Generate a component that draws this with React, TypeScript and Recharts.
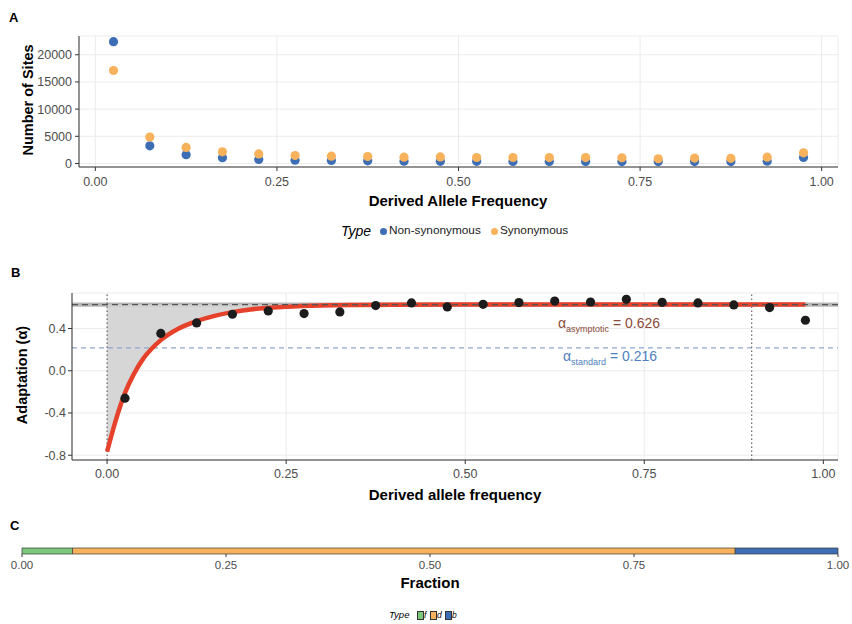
import React from 'react';
import {
  ScatterChart,
  ComposedChart,
  BarChart,
  Scatter,
  Line,
  Area,
  Bar,
  XAxis,
  YAxis,
  CartesianGrid,
  ReferenceLine,
  ReferenceArea,
} from 'recharts';

// Panel A: site frequency spectrum
const binMids = [
  0.025, 0.075, 0.125, 0.175, 0.225, 0.275, 0.325, 0.375, 0.425, 0.475,
  0.525, 0.575, 0.625, 0.675, 0.725, 0.775, 0.825, 0.875, 0.925, 0.975,
];
const nonSynCounts = [
  22400, 3250, 1600, 1050, 740, 610, 550, 490, 430, 400,
  390, 380, 370, 360, 350, 340, 340, 350, 420, 1100,
];
const synCounts = [
  17100, 4850, 2950, 2150, 1760, 1470, 1340, 1280, 1160, 1200,
  1100, 1100, 1080, 1080, 1050, 870, 1000, 950, 1150, 1950,
];
const freqTicks = [0, 0.25, 0.5, 0.75, 1];
const siteTicks = [0, 5000, 10000, 15000, 20000];

// Panel B: alpha by frequency
const alphaObs = [
  -0.26, 0.353, 0.453, 0.535, 0.566, 0.541, 0.557, 0.617, 0.642, 0.604,
  0.629, 0.645, 0.66, 0.651, 0.676, 0.648, 0.642, 0.623, 0.598, 0.478,
];
const fitX = [
  0, 0.0125, 0.025, 0.0375, 0.05, 0.0625, 0.075, 0.1, 0.125, 0.15, 0.175,
  0.2, 0.25, 0.3, 0.35, 0.4, 0.5, 0.6, 0.7, 0.8, 0.9, 0.975,
];
const fitY = [
  -0.765, -0.46, -0.21, -0.03, 0.11, 0.21, 0.29, 0.4, 0.47, 0.52, 0.555,
  0.58, 0.605, 0.617, 0.622, 0.625, 0.626, 0.626, 0.626, 0.626, 0.626, 0.626,
];
const alphaAsymptotic = 0.626;
const alphaStandard = 0.216;
const cutoff = 0.9;
const alphaTicks = [-0.8, -0.4, 0, 0.4];

// Panel C: fractions
const fractionTypes = ['f', 'd', 'b'];
const fractionValues = [0.062, 0.812, 0.126];

const FONT = '"Liberation Sans", Arial, Helvetica, sans-serif';
const BLUE = '#3d6db4';
const ORANGE = '#f8b25c';
const GREEN = '#7bc87a';
const AXIS = '#333333';
const GRID = '#ebebeb';
const TICK_TEXT = { fontSize: 12.5, fill: '#4d4d4d', fontFamily: FONT };

const fmt2 = (v: number) => v.toFixed(2);
const fmt1 = (v: number) => (Math.abs(v) < 1e-9 ? '0.0' : v.toFixed(1));

const dot = (fill: string, r: number) => (p: any) =>
  <circle cx={p.cx} cy={p.cy} r={r} fill={fill} />;

function Text({
  x, y, children, size = 14, bold = false, italic = false, color = '#000', center = false, rotate = false,
}: any) {
  return (
    <div
      style={{
        position: 'absolute',
        left: x,
        top: y,
        fontFamily: FONT,
        fontSize: size,
        fontWeight: bold ? 700 : 400,
        fontStyle: italic ? 'italic' : 'normal',
        color,
        whiteSpace: 'nowrap',
        lineHeight: 1,
        transform: `${center ? 'translate(-50%, -50%)' : 'translateY(-50%)'}${rotate ? ' rotate(-90deg)' : ''}`,
      }}
    >
      {children}
    </div>
  );
}

function PanelA() {
  const nonSyn = binMids.map((x, i) => ({ x, y: nonSynCounts[i] }));
  const syn = binMids.map((x, i) => ({ x, y: synCounts[i] }));
  return (
    <div style={{ position: 'absolute', left: 0, top: 0 }}>
      <ScatterChart width={852} height={191} margin={{ top: 36, right: 14, left: 19, bottom: 0 }}>
        <CartesianGrid stroke={GRID} strokeWidth={1} />
        <XAxis
          type="number"
          dataKey="x"
          domain={[-0.0225, 1.0225]}
          ticks={freqTicks}
          tickFormatter={fmt2}
          tick={TICK_TEXT}
          stroke={AXIS}
          tickSize={4}
          tickMargin={6}
          height={24}
        />
        <YAxis
          type="number"
          dataKey="y"
          domain={[-650, 23450]}
          ticks={siteTicks}
          tick={TICK_TEXT}
          stroke={AXIS}
          tickSize={4}
          tickMargin={3}
          width={60}
        />
        <Scatter data={nonSyn} shape={dot(BLUE, 4.6)} isAnimationActive={false} />
        <Scatter data={syn} shape={dot(ORANGE, 4.6)} isAnimationActive={false} />
      </ScatterChart>
    </div>
  );
}

function PanelB() {
  const obs = binMids.map((x, i) => ({ x, y: alphaObs[i] }));
  const fit = fitX.map((x, i) => ({ x, y: fitY[i] }));
  const gap = fitX
    .map((x, i) => ({ x, band: [fitY[i], alphaAsymptotic] }))
    .filter((d) => d.x <= 0.4);
  return (
    <div style={{ position: 'absolute', left: 0, top: 250 }}>
      <ComposedChart width={852} height={234} margin={{ top: 43, right: 14, left: 20, bottom: 0 }}>
        <CartesianGrid stroke={GRID} strokeWidth={1} />
        <XAxis
          type="number"
          dataKey="x"
          domain={[-0.049, 1.0205]}
          ticks={freqTicks}
          tickFormatter={fmt2}
          tick={TICK_TEXT}
          stroke={AXIS}
          tickSize={4}
          tickMargin={5}
          height={24}
          allowDataOverflow
        />
        <YAxis
          type="number"
          dataKey="y"
          domain={[-0.845, 0.736]}
          ticks={alphaTicks}
          tickFormatter={fmt1}
          tick={TICK_TEXT}
          stroke={AXIS}
          tickSize={4}
          tickMargin={2}
          width={52}
          allowDataOverflow
        />
        <ReferenceArea y1={alphaAsymptotic - 0.02} y2={alphaAsymptotic + 0.02} fill="#a9a9a9" fillOpacity={0.85} stroke="none" />
        <Area
          data={gap}
          dataKey="band"
          type="monotone"
          fill="#d2d2d2"
          fillOpacity={0.9}
          stroke="none"
          isAnimationActive={false}
        />
        <ReferenceLine y={alphaStandard} stroke="#8ea8cf" strokeDasharray="5 4" strokeWidth={1.2} />
        <ReferenceLine x={0} stroke="#666" strokeDasharray="1.5 2.5" strokeWidth={1.2} />
        <ReferenceLine x={cutoff} stroke="#666" strokeDasharray="1.5 2.5" strokeWidth={1.2} />
        <Line
          data={fit}
          dataKey="y"
          type="monotone"
          stroke="#e5412b"
          strokeWidth={4.5}
          dot={false}
          isAnimationActive={false}
        />
        <ReferenceLine y={alphaAsymptotic} stroke="#555" strokeDasharray="6 4" strokeWidth={1.3} />
        <Scatter data={obs} shape={dot('#1c1c1c', 4.6)} isAnimationActive={false} />
      </ComposedChart>
    </div>
  );
}

function PanelC() {
  const row: any = { name: 'fraction' };
  fractionTypes.forEach((t, i) => (row[t] = fractionValues[i]));
  const colors = [GREEN, ORANGE, BLUE];
  return (
    <div style={{ position: 'absolute', left: 0, top: 530 }}>
      <BarChart
        width={852}
        height={60}
        data={[row]}
        layout="vertical"
        barCategoryGap={0}
        margin={{ top: 18, right: 14, left: 22, bottom: 12 }}
      >
        <XAxis
          type="number"
          domain={[0, 1]}
          ticks={freqTicks}
          tickFormatter={fmt2}
          tick={{ ...TICK_TEXT, fontSize: 11.5 }}
          axisLine={false}
          stroke={AXIS}
          tickSize={3}
          tickMargin={4}
          height={24}
        />
        <YAxis type="category" dataKey="name" hide />
        {fractionTypes.map((t, i) => (
          <Bar
            key={t}
            dataKey={t}
            stackId="s"
            fill={colors[i]}
            stroke="#3a3a3a"
            strokeWidth={0.7}
            isAnimationActive={false}
          />
        ))}
      </BarChart>
    </div>
  );
}

export default function App() {
  return (
    <div style={{ position: 'absolute', left: 0, top: 0, width: 852, height: 624, background: '#fff', overflow: 'hidden' }}>
      <PanelA />
      <PanelB />
      <PanelC />

      <Text x={9} y={17} size={13} bold>A</Text>
      <Text x={28} y={100} size={14.5} bold center rotate>Number of Sites</Text>
      <Text x={458} y={200} size={15} bold center>Derived Allele Frequency</Text>
      <Text x={341} y={231} size={14} italic>Type</Text>
      <div style={{ position: 'absolute', left: 379.5, top: 227.5, width: 7.5, height: 7.5, borderRadius: '50%', background: BLUE }} />
      <Text x={389} y={231} size={11.8} color="#222">Non-synonymous</Text>
      <div style={{ position: 'absolute', left: 490.5, top: 227.5, width: 7.5, height: 7.5, borderRadius: '50%', background: ORANGE }} />
      <Text x={500} y={231} size={11.8} color="#222">Synonymous</Text>

      <Text x={11} y={272} size={13} bold>B</Text>
      <Text x={22} y={375} size={14.5} bold center rotate>Adaptation (α)</Text>
      <Text x={455} y={494} size={15} bold center>Derived allele frequency</Text>
      <Text x={558} y={325} size={14} color="#8b4a3a">
        α<sub style={{ fontSize: 9 }}>asymptotic</sub> = 0.626
      </Text>
      <Text x={563} y={358} size={14} color="#4f7fc0">
        α<sub style={{ fontSize: 9 }}>standard</sub> = 0.216
      </Text>

      <Text x={10} y={525} size={13} bold>C</Text>
      <Text x={430} y={582} size={15} bold center>Fraction</Text>
      <Text x={389} y={615} size={9.5} italic>Type</Text>
      <div style={{ position: 'absolute', left: 417, top: 611, width: 5, height: 7, background: GREEN, border: '0.5px solid #333' }} />
      <Text x={424} y={615} size={8.5} italic>f</Text>
      <div style={{ position: 'absolute', left: 430, top: 611, width: 5, height: 7, background: ORANGE, border: '0.5px solid #333' }} />
      <Text x={437} y={615} size={8.5} italic>d</Text>
      <div style={{ position: 'absolute', left: 445, top: 611, width: 5, height: 7, background: BLUE, border: '0.5px solid #333' }} />
      <Text x={452} y={615} size={8.5} italic>b</Text>
    </div>
  );
}
